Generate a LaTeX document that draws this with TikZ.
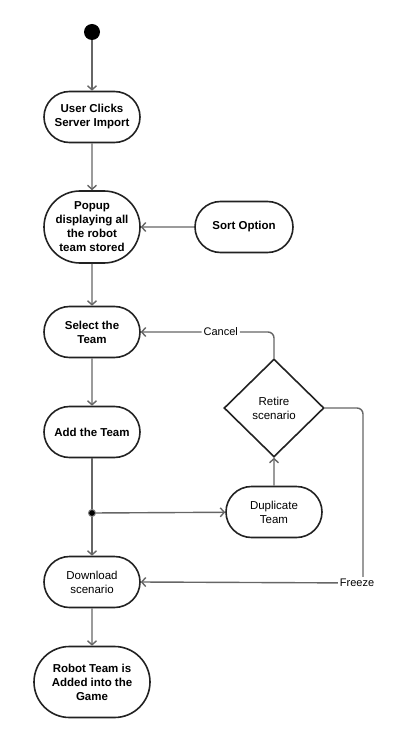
\documentclass[tikz,border=0pt]{standalone}
\usepackage{fontspec}
\setmainfont{Liberation Sans}
\usepackage{tikz}
\usetikzlibrary{arrows.meta,shapes.misc,shapes.geometric}
\definecolor{linex}{HTML}{666666}
\definecolor{edgex}{HTML}{222222}
\tikzset{
  ar/.style={-{Straight Barb[length=4pt,width=9pt]},line width=1.4pt,linex},
  ln/.style={line width=1.4pt,linex},
  act/.style={rounded rectangle,draw=edgex,line width=1.6pt,fill=white,align=center,
    minimum width=100pt,minimum height=51pt,inner sep=2pt,font=\fontsize{11.5}{14}\selectfont},
  actb/.style={act,font=\fontsize{11.5}{14}\selectfont\bfseries},
  dec/.style={diamond,draw=edgex,line width=1.6pt,fill=white,align=center,aspect=1.02,
    minimum width=100pt,minimum height=98pt,inner sep=0pt,font=\fontsize{11.5}{14}\selectfont},
  lbl/.style={fill=white,text=black,inner sep=2pt,font=\fontsize{11}{13}\selectfont},
  dot/.style={circle,fill=black,inner sep=0pt,minimum size=16pt},
  fork/.style={circle,fill=black,draw=gray,line width=1pt,inner sep=0pt,minimum size=7pt}
}
\begin{document}
\begin{tikzpicture}[x=1pt,y=-1pt]
\useasboundingbox (0,0) rectangle (412,743);
% activities
\node[dot] (st) at (92,32) {};
\node[actb] (usr) at (92,117) {User Clicks\\Server Import};
\node[actb,minimum height=72pt] (pop) at (92,227) {Popup\\displaying all\\the robot\\team stored};
\node[actb,minimum width=102pt] (srt) at (244,227) {Sort Option};
\node[actb] (sel) at (92,332) {Select the\\Team};
\node[actb] (add) at (92,432) {Add the Team};
\node[fork] (fk) at (92,513) {};
\node[act] (dup) at (274,512) {Duplicate\\Team};
\node[dec] (ret) at (274,408) {Retire\\scenario};
\node[act] (dl) at (92,582) {Download\\scenario};
\node[actb,minimum width=120pt,minimum height=71pt] (rob) at (92,682) {Robot Team is\\Added into the\\Game};
\coordinate (fz) at (363,583);
% flows
\draw[ar] (st) -- (usr);
\draw[ar] (usr) -- (pop);
\draw[ar] (srt) -- (pop);
\draw[ar] (pop) -- (sel);
\draw[ar] (sel) -- (add);
\draw[ln] (add) -- (fk);
\draw[ar] (fk) -- (dl);
\draw[ar] (fk) -- (dup);
\draw[ar] (dup) -- (ret);
\draw[ar,rounded corners=6pt] (ret.north) |- (sel.east) node[lbl,pos=0.7] (cnl) {Cancel};
\draw[ar,rounded corners=6pt] (ret.east) -| (fz) -- (dl.east);
\node[lbl] (frz) at (357,583) {Freeze};
\draw[ar] (dl) -- (rob);
\end{tikzpicture}
\end{document}
